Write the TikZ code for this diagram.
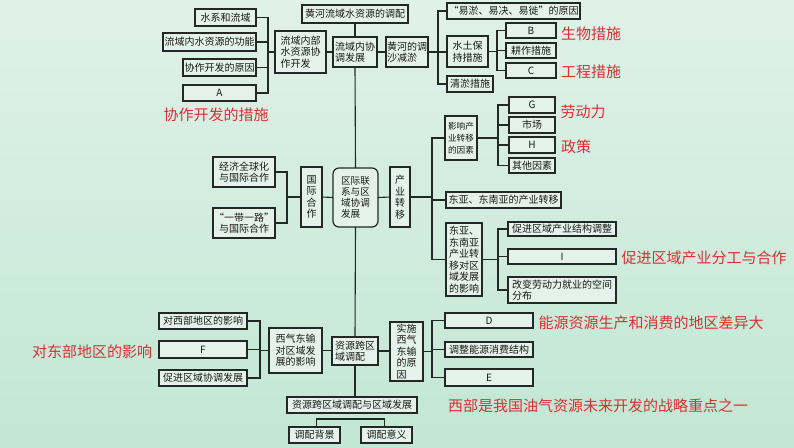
\documentclass[tikz,border=0pt]{standalone}
\usepackage{fontspec}
\setmainfont{Noto Sans CJK SC}
\usetikzlibrary{calc}
\definecolor{bgtop}{RGB}{224,241,233}
\definecolor{bgmid}{RGB}{212,237,224}
\definecolor{bgbot}{RGB}{194,231,211}
\definecolor{boxfill}{RGB}{228,242,235}
\definecolor{linec}{RGB}{35,40,38}
\definecolor{redtxt}{RGB}{218,48,52}
\newcommand\bxnode[7][]{\node[box,minimum width={#5pt-#3pt},minimum height={#6pt-#4pt},#1] (#2) at ({(#3+#5)/2},{(#4+#6)/2}) {#7};}
\begin{document}
\begin{tikzpicture}[x=1pt,y=-1pt,
  box/.style={draw=linec,line width=1.2pt,fill=boxfill,inner sep=0pt,outer sep=0pt,
    font=\fontsize{10}{11.5}\selectfont,text=black!90,align=center},
  redlbl/.style={text=redtxt,font=\fontsize{15}{18}\selectfont,inner sep=0pt},
  conn/.style={draw=linec,line width=1.1pt}]
\shade[top color=bgtop,middle color=bgmid,bottom color=bgbot] (0,0) rectangle (794,447);
\useasboundingbox (0,0) rectangle (794,447);

% top-left group
\bxnode{n1}{195}{9}{256}{26}{水系和流域}
\bxnode{n2}{163}{33}{256}{51}{流域内水资源的功能}
\bxnode{n3}{183}{59}{256}{76}{协作开发的原因}
\bxnode{nA}{183}{85}{256}{101}{A}
\bxnode[align=left]{n5}{275}{31}{326}{73}{流域内部\\水资源协\\作开发}
\bxnode[align=left]{n6}{333}{37}{377}{67}{流域内协\\调发展}
\bxnode{n7}{302}{5}{408}{23}{黄河流域水资源的调配}
\bxnode[align=left]{n8}{386}{37}{428}{67}{黄河的调\\沙减淤}
% top-right group
\bxnode{n9}{447}{3}{580}{19}{“易淤、易决、易徙”的原因}
\bxnode[align=left]{n10}{447}{36}{488}{67}{水土保\\持措施}
\bxnode{n11}{447}{76}{493}{92}{清淤措施}
\bxnode{nB}{506}{23}{556}{38}{B}
\bxnode{n12}{506}{43}{556}{58}{耕作措施}
\bxnode{nC}{506}{63}{556}{78}{C}
% industry transfer
\bxnode{nG}{509}{97}{555}{113}{G}
\bxnode{n13}{509}{117}{555}{133}{市场}
\bxnode{nH}{509}{137}{555}{153}{H}
\bxnode{n14}{509}{158}{555}{173}{其他因素}
\bxnode[align=left,font=\fontsize{8.6}{12}\selectfont]{n15}{445}{116}{477}{160}{影响产\\业转移\\的因素}
\bxnode{n16}{446}{192}{561}{208}{东亚、东南亚的产业转移}
\bxnode[align=left]{n17}{446}{223}{482}{296}{东亚、\\东南亚\\产业转\\移对区\\域发展\\的影响}
\bxnode{n18}{508}{222}{616}{236}{促进区域产业结构调整}
\bxnode{nI}{508}{249}{616}{264}{I}
\bxnode[align=left]{n19}{508}{277}{616}{303}{改变劳动力就业的空间\\分布}
% middle
\bxnode{n20}{213}{157}{275}{187}{经济全球化\\与国际合作}
\bxnode{n21}{213}{208}{275}{238}{“一带一路”\\与国际合作}
\bxnode{n22}{301}{167}{322}{227}{国\\际\\合\\作}
\bxnode[rounded corners=6pt,align=left,font=\fontsize{9.6}{11.2}\selectfont]{n23}{333}{168}{378}{227}{区际联\\系与区\\域协调\\发展}
\bxnode{n24}{390}{167}{410}{227}{产\\业\\转\\移}
% bottom
\bxnode{n25}{159}{313}{247}{329}{对西部地区的影响}
\bxnode{nF}{159}{341}{247}{358}{F}
\bxnode{n26}{159}{370}{247}{386}{促进区域协调发展}
\bxnode[align=left]{n27}{269}{328}{322}{373}{西气东输\\对区域发\\展的影响}
\bxnode[align=left]{n28}{332}{337}{378}{365}{资源跨区\\域调配}
\bxnode[align=left]{n29}{390}{322}{423}{381}{实施\\西气\\东输\\的原\\因}
\bxnode{nD}{445}{313}{533}{328}{D}
\bxnode{n30}{445}{342}{533}{357}{调整能源消费结构}
\bxnode{nE}{445}{369}{533}{386}{E}
\bxnode{n31}{287}{397}{417}{413}{资源跨区域调配与区域发展}
\bxnode{n32}{289}{427}{340}{443}{调配背景}
\bxnode{n33}{361}{427}{412}{443}{调配意义}

% junction coordinates
\coordinate (j1) at ([xshift=-7pt]n5.west);
\coordinate (j2) at ([xshift=10pt]n8.east);
\coordinate (j3) at ([xshift=9pt]n10.east);
\coordinate (j4) at ([xshift=22pt]n24.east);
\coordinate (j5) at ([xshift=21pt]n15.east);
\coordinate (j6) at ([xshift=16pt]n17.east);
\coordinate (j7) at ([xshift=-14pt]n22.west);
\coordinate (j8) at ([xshift=-9pt]n27.west);
\coordinate (j9) at ([xshift=9pt]n29.east);

% spine
\draw[conn] (n7.south) -- (n6.north);
\draw[conn] (n6.south) -- (n23.north);
\draw[conn] (n23.south) -- (n28.north);
\draw[conn] (n28.south) -- (n28.south |- n31.north);

% top-left
\draw[conn] (n1.east) -| (j1) |- (nA.east);
\draw[conn] (n2.east) -- (n2.east -| j1);
\draw[conn] (n3.east) -- (n3.east -| j1);
\draw[conn] (j1) -- (n5.west);
\draw[conn] (n5.east) -- (n5.east -| n6.west);
\draw[conn] (n6.east) -- (n8.west);
% top-right
\draw[conn] (n8.east) -- (j2);
\draw[conn] (n9.west) -| (j2) |- (n11.west);
\draw[conn] (j2) -- (j2 -| n10.west);
\draw[conn] (n10.east) -- (j3);
\draw[conn] (nB.west) -| (j3) |- (nC.west);
\draw[conn] (n12.west) -- (n12.west -| j3);
% industry
\draw[conn] (n23.east) -- (n24.west);
\draw[conn] (n24.east) -- (j4);
\draw[conn] (n15.west) -| (j4) |- (n17.west);
\draw[conn] (n16.west) -- (n16.west -| j4);
\draw[conn] (n15.east) -- (j5);
\draw[conn] (nG.west) -| (j5) |- (n14.west);
\draw[conn] (n13.west) -- (n13.west -| j5);
\draw[conn] (nH.west) -- (nH.west -| j5);
\draw[conn] (n17.east) -- (j6);
\draw[conn] (n18.west) -| (j6) |- (n19.west);
\draw[conn] (nI.west) -- (nI.west -| j6);
% international
\draw[conn] (n22.east) -- (n23.west);
\draw[conn] (n22.west) -- (j7);
\draw[conn] (n20.east) -| (j7) |- (n21.east);
% bottom
\draw[conn] (n27.east) -- (n27.east -| n28.west);
\draw[conn] (n27.west) -- (j8);
\draw[conn] (n25.east) -| (j8) |- (n26.east);
\draw[conn] (nF.east) -- (nF.east -| j8);
\draw[conn] (n28.east) -- (n28.east -| n29.west);
\draw[conn] (n29.east) -- (j9);
\draw[conn] (nD.west) -| (j9) |- (nE.west);
\draw[conn] (n30.west) -- (n30.west -| j9);
\draw[conn] ([xshift=2pt]n32.north) -- ++(0,-8) -| ([xshift=-2pt]n33.north);

% red annotations
\node[redlbl] (r1) at (216,115) {协作开发的措施};
\node[redlbl] (r2) at (591,34) {生物措施};
\node[redlbl] (r3) at (591,72) {工程措施};
\node[redlbl] (r4) at (583,112) {劳动力};
\node[redlbl] (r5) at (576,147) {政策};
\node[redlbl] (r6) at (704,258) {促进区域产业分工与合作};
\node[redlbl] (r7) at (651,323) {能源资源生产和消费的地区差异大};
\node[redlbl] (r8) at (598,406) {西部是我国油气资源未来开发的战略重点之一};
\node[redlbl] (r9) at (92,352) {对东部地区的影响};
\end{tikzpicture}
\end{document}
